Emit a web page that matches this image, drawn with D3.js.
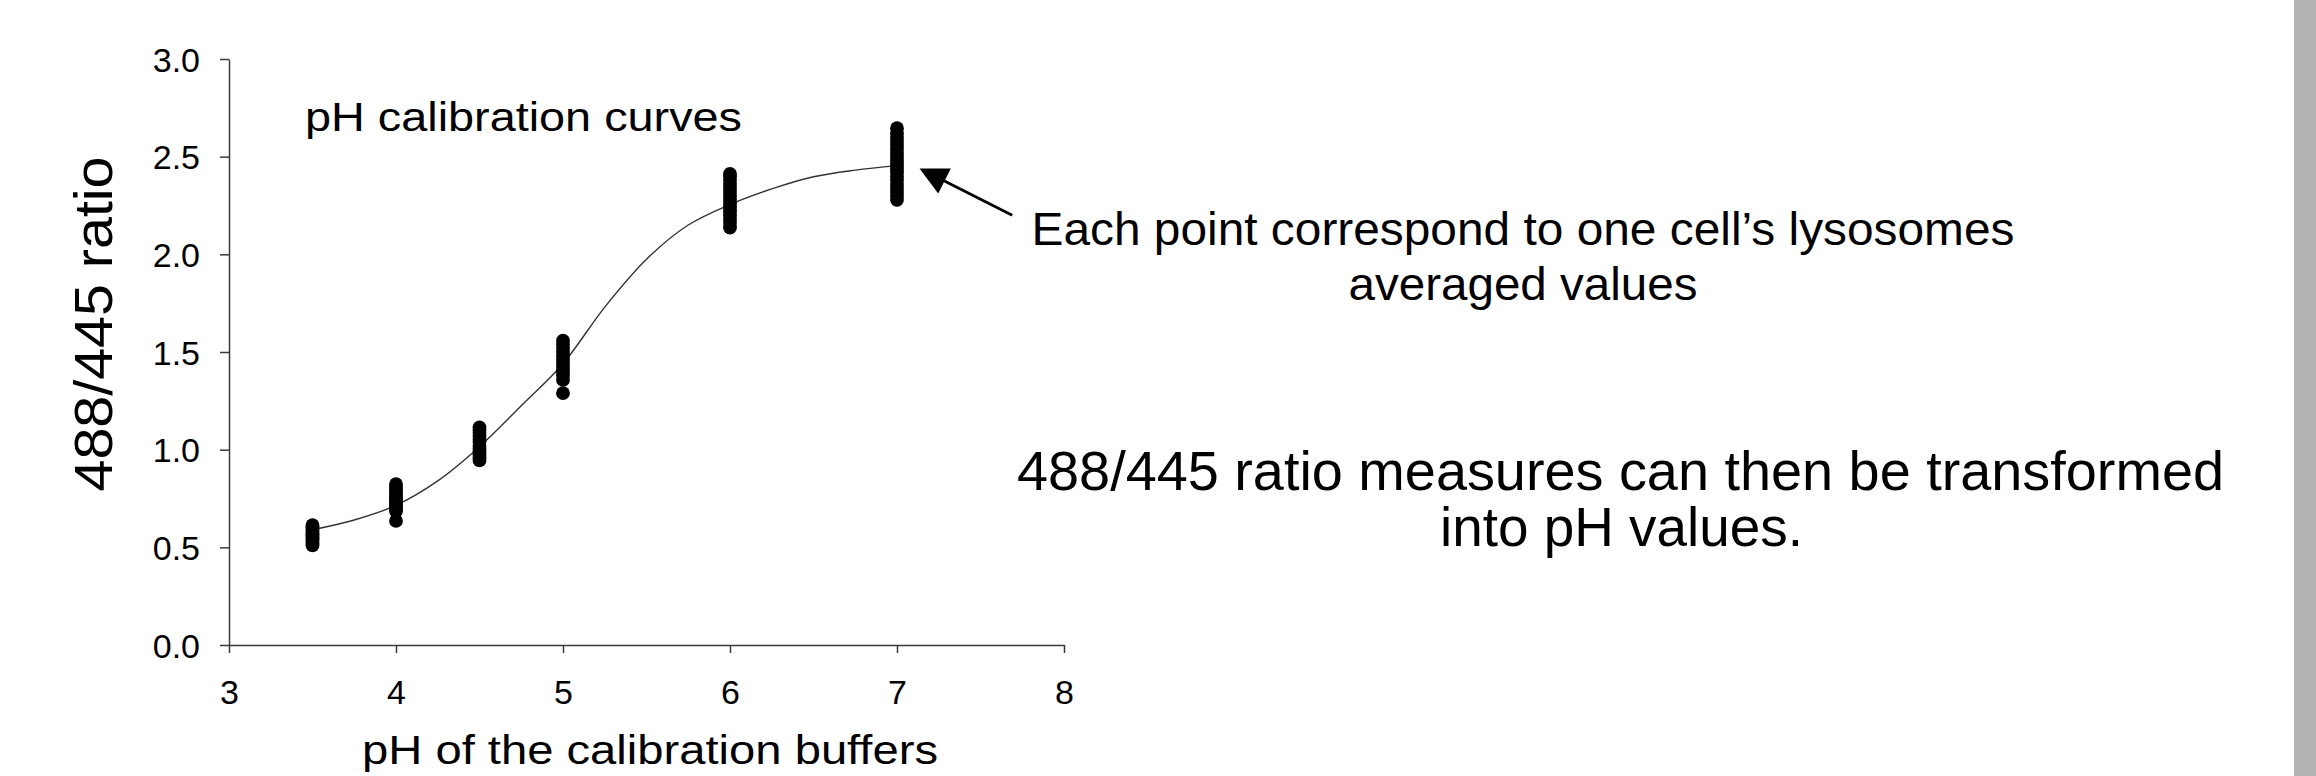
<!DOCTYPE html>
<html>
<head>
<meta charset="utf-8">
<script src="https://cdn.jsdelivr.net/npm/d3@7"></script>
<style>
  body { margin: 0; background: #fff; }
  svg { display: block; font-family: "Liberation Sans", Arial, sans-serif; }
</style>
</head>
<body>
<script>
var width = 2316, height = 776

// buffer pH values and the measured 488/445 ratios (one dot per cell)
var bufferPh = [3.5, 4, 4.5, 5, 6, 7]
var ratioPh35 = [0.51, 0.52, 0.535, 0.545, 0.555, 0.565, 0.57, 0.58, 0.59, 0.6, 0.605, 0.614]
var ratioPh40 = [0.635, 0.685, 0.7, 0.71, 0.72, 0.735, 0.745, 0.755, 0.77, 0.78, 0.795, 0.81, 0.824]
var ratioPh45 = [0.945, 0.96, 0.975, 0.99, 1.005, 1.02, 1.04, 1.055, 1.07, 1.085, 1.1, 1.114]
var ratioPh50 = [1.289, 1.357, 1.38, 1.4, 1.42, 1.44, 1.46, 1.48, 1.5, 1.52, 1.54, 1.558]
var ratioPh60 = [2.137, 2.16, 2.18, 2.2, 2.22, 2.24, 2.26, 2.28, 2.3, 2.32, 2.34, 2.36, 2.38, 2.4, 2.412]
var ratioPh70 = [2.279, 2.3, 2.32, 2.34, 2.36, 2.38, 2.4, 2.42, 2.44, 2.46, 2.48, 2.5, 2.52, 2.54, 2.56, 2.58, 2.6, 2.62, 2.646]
var ratiosByBuffer = [ratioPh35, ratioPh40, ratioPh45, ratioPh50, ratioPh60, ratioPh70]

// calibration curve
var fitPh = [3.5, 3.75, 4, 4.25, 4.5, 4.75, 5, 5.25, 5.5, 5.75, 6, 6.25, 6.5, 6.75, 7]
var fitRatio = [0.59, 0.64, 0.715, 0.84, 1.015, 1.225, 1.44, 1.73, 1.975, 2.15, 2.255, 2.335, 2.397, 2.431, 2.454]

var xTicks = [3, 4, 5, 6, 7, 8]
var yTicks = [0, 0.5, 1, 1.5, 2, 2.5, 3]

var svg = d3.select("body").append("svg")
    .attr("width", width)
    .attr("height", height)

svg.append("rect")
    .attr("width", width)
    .attr("height", height)
    .attr("fill", "#fff")

// grey strip on the right edge of the slide
svg.append("rect")
    .attr("x", 2294)
    .attr("y", 0)
    .attr("width", 22)
    .attr("height", height)
    .attr("fill", "#b3b3b3")

var x = d3.scaleLinear().domain([3, 8]).range([229, 1064])
var y = d3.scaleLinear().domain([0, 3]).range([645, 59])

//axes
var yAxis = svg.append("g")
    .attr("transform", "translate(229,0)")
    .call(d3.axisLeft(y).tickValues(yTicks).tickFormat(d3.format(".1f"))
      .tickSize(9).tickSizeOuter(0).tickPadding(20))

var xAxis = svg.append("g")
    .attr("transform", "translate(0,645)")
    .call(d3.axisBottom(x).tickValues(xTicks).tickFormat(d3.format("d"))
      .tickSize(8).tickSizeOuter(0).tickPadding(27))

svg.selectAll(".domain, .tick line")
    .attr("stroke", "#3a3a3a")
    .attr("stroke-width", 1.5)

svg.selectAll(".tick text")
    .attr("fill", "#000")
    .style("font-size", "34px")
    .style("font-family", "\"Liberation Sans\", Arial, sans-serif")

yAxis.selectAll(".tick text").attr("dy", "0.36em")

// axis titles
svg.append("text")
    .attr("transform", "translate(112,324) rotate(-90)")
    .attr("text-anchor", "middle")
    .attr("textLength", 335)
    .attr("lengthAdjust", "spacingAndGlyphs")
    .style("font-size", "53px")
    .text("488/445 ratio")

svg.append("text")
    .attr("x", 650)
    .attr("y", 764)
    .attr("text-anchor", "middle")
    .attr("textLength", 576)
    .attr("lengthAdjust", "spacingAndGlyphs")
    .style("font-size", "40px")
    .text("pH of the calibration buffers")

svg.append("text")
    .attr("x", 305)
    .attr("y", 131)
    .attr("textLength", 437)
    .attr("lengthAdjust", "spacingAndGlyphs")
    .style("font-size", "41px")
    .text("pH calibration curves")

// fitted curve
var line = d3.line()
    .x(function(d, i) { return x(fitPh[i]) })
    .y(function(d) { return y(d) })
    .curve(d3.curveCatmullRom.alpha(0.5))

svg.append("path")
    .datum(fitRatio)
    .attr("d", line)
    .attr("fill", "none")
    .attr("stroke", "#333")
    .attr("stroke-width", 1.4)

// one dot per cell
var points = []
bufferPh.forEach(function(ph, i) {
  ratiosByBuffer[i].forEach(function(r) {
    points.push({ph: ph, ratio: r})
  })
})

svg.append("g")
    .selectAll("circle")
    .data(points)
    .enter().append("circle")
    .attr("cx", function(d) { return x(d.ph) })
    .attr("cy", function(d) { return y(d.ratio) })
    .attr("r", 6.9)
    .attr("fill", "#000")

// arrow pointing at the pH 7 column
var arrowTail = [7.69, 2.2], arrowTip = [7.135, 2.44]
var tx = x(arrowTip[0]), ty = y(arrowTip[1])
var sx = x(arrowTail[0]), sy = y(arrowTail[1])
var len = Math.hypot(tx - sx, ty - sy)
var ux = (tx - sx) / len, uy = (ty - sy) / len
var headLen = 28, headHalf = 14
var bx = tx - ux * headLen, by = ty - uy * headLen

svg.append("line")
    .attr("x1", sx).attr("y1", sy)
    .attr("x2", bx + ux * 4).attr("y2", by + uy * 4)
    .attr("stroke", "#000")
    .attr("stroke-width", 2.7)

svg.append("path")
    .attr("d", "M" + tx + "," + ty +
      "L" + (bx - uy * headHalf) + "," + (by + ux * headHalf) +
      "L" + (bx + uy * headHalf) + "," + (by - ux * headHalf) + "Z")
    .attr("fill", "#000")

// side notes
var notes = [
  {text: "Each point correspond to one cell\u2019s lysosomes", x: 1523, y: 245, size: 47, len: 983},
  {text: "averaged values", x: 1523, y: 300, size: 47, len: 349},
  {text: "488/445 ratio measures can then be transformed", x: 1620.5, y: 490, size: 56, len: 1207},
  {text: "into pH values.", x: 1621.5, y: 546, size: 56, len: 363}
]

svg.append("g")
    .selectAll("text")
    .data(notes)
    .enter().append("text")
    .attr("x", function(d) { return d.x })
    .attr("y", function(d) { return d.y })
    .attr("text-anchor", "middle")
    .attr("textLength", function(d) { return d.len })
    .attr("lengthAdjust", "spacingAndGlyphs")
    .style("font-size", function(d) { return d.size + "px" })
    .text(function(d) { return d.text })
</script>
</body>
</html>
